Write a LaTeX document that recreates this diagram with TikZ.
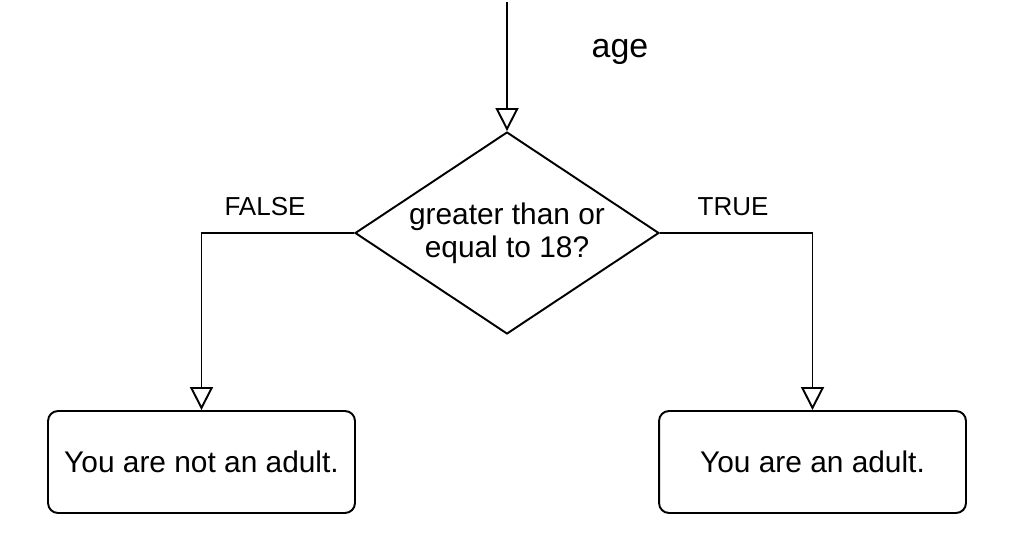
\documentclass[tikz,border=0pt]{standalone}
\usepackage{fontspec}
\setmainfont{Liberation Sans}
\usetikzlibrary{positioning, shapes.geometric, arrows.meta}

\begin{document}
\begin{tikzpicture}[x=0.02cm, y=-0.02cm, line width=1.1pt,
  font=\fontsize{17}{18.8}\selectfont,
  decision/.style = {draw, diamond, aspect=1.5, inner sep=0pt, align=center, minimum width=6.08cm, minimum height=4.04cm},
  result/.style = {draw, rectangle, rounded corners=0.2cm, minimum width=6.14cm, minimum height=2.04cm},
  lbl/.style = {font=\fontsize{14.8}{16}\selectfont},
  flow/.style = {-{Triangle[open, length=0.46cm, width=0.46cm]}}]
	\useasboundingbox (0,0) rectangle (1014,544);
	\coordinate (start) at (507,2);
	\node[decision] (check) at (507,233) {greater than or\\equal to 18?};
	\node[font=\fontsize{19.3}{22}\selectfont] (input) at (620,52) {age};
	\node[result] (notadult) at (201.5,462) {You are not an adult.};
	\node[result] (adult) at (812.5,462) {You are an adult.};
	\node[lbl] (falselbl) at (265,207) {FALSE};
	\node[lbl] (truelbl) at (733,207) {TRUE};
	\draw[flow] (start) -- (check.north);
	\draw[flow] (check.west) -| (notadult.north);
	\draw[flow] (check.east) -| (adult.north);
\end{tikzpicture}
\end{document}
